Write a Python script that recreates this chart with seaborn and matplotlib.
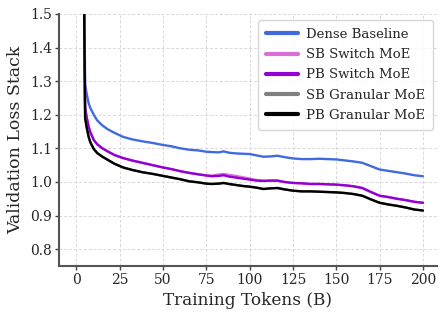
import numpy as np
import pandas as pd
import seaborn as sns
import matplotlib
matplotlib.use("Agg")
import matplotlib.pyplot as plt

tokens = [0, 5, 6, 7, 8, 10, 12, 15, 18, 22, 27, 32, 38, 44, 50, 55, 60, 65, 70, 75,
          78, 82, 85, 88, 92, 96, 100, 104, 108, 112, 116, 120, 125, 130, 135, 140,
          145, 150, 155, 160, 165, 170, 175, 180, 185, 190, 195, 200]

dense = [4.0, 1.29, 1.26, 1.235, 1.22, 1.20, 1.183, 1.168, 1.157, 1.146, 1.134, 1.127,
         1.121, 1.116, 1.110, 1.106, 1.100, 1.096, 1.094, 1.090, 1.089, 1.088, 1.091,
         1.087, 1.085, 1.084, 1.083, 1.079, 1.075, 1.076, 1.078, 1.074, 1.070, 1.068,
         1.068, 1.069, 1.068, 1.067, 1.064, 1.061, 1.057, 1.047, 1.037, 1.033, 1.029,
         1.025, 1.020, 1.017]

pb_switch = [4.0, 1.22, 1.19, 1.165, 1.148, 1.125, 1.112, 1.100, 1.091, 1.080, 1.071,
             1.064, 1.057, 1.050, 1.043, 1.038, 1.032, 1.027, 1.023, 1.019, 1.017,
             1.018, 1.020, 1.016, 1.013, 1.010, 1.007, 1.004, 1.003, 1.004, 1.004,
             1.000, 0.997, 0.996, 0.994, 0.994, 0.993, 0.992, 0.990, 0.987, 0.982,
             0.970, 0.959, 0.955, 0.950, 0.946, 0.941, 0.938]

sb_switch = [4.0, 1.22, 1.19, 1.165, 1.148, 1.125, 1.112, 1.100, 1.091, 1.080, 1.071,
             1.064, 1.057, 1.050, 1.043, 1.038, 1.032, 1.027, 1.023, 1.020, 1.019,
             1.022, 1.024, 1.021, 1.018, 1.014, 1.010, 1.006, 1.004, 1.004, 1.004,
             1.000, 0.997, 0.996, 0.994, 0.994, 0.993, 0.992, 0.990, 0.987, 0.982,
             0.970, 0.959, 0.955, 0.950, 0.946, 0.941, 0.938]

pb_granular = [4.0, 1.19, 1.16, 1.135, 1.118, 1.098, 1.086, 1.075, 1.066, 1.054, 1.043,
               1.036, 1.029, 1.024, 1.018, 1.013, 1.008, 1.002, 0.999, 0.995, 0.994,
               0.995, 0.997, 0.994, 0.991, 0.988, 0.986, 0.983, 0.979, 0.981, 0.982,
               0.978, 0.974, 0.972, 0.972, 0.971, 0.970, 0.969, 0.967, 0.964, 0.959,
               0.948, 0.938, 0.933, 0.929, 0.924, 0.918, 0.915]

sb_granular = [4.0, 1.19, 1.16, 1.135, 1.118, 1.098, 1.086, 1.075, 1.066, 1.054, 1.043,
               1.036, 1.029, 1.024, 1.018, 1.013, 1.008, 1.002, 0.999, 0.995, 0.994,
               0.995, 0.997, 0.994, 0.991, 0.988, 0.986, 0.983, 0.979, 0.981, 0.982,
               0.978, 0.974, 0.972, 0.972, 0.971, 0.970, 0.969, 0.967, 0.964, 0.959,
               0.948, 0.938, 0.933, 0.929, 0.924, 0.918, 0.915]

models = ["Dense Baseline", "SB Switch MoE", "PB Switch MoE", "SB Granular MoE", "PB Granular MoE"]
colors = ["#4169E1", "#DA70D6", "#9400D3", "#808080", "#000000"]

series = [dense, sb_switch, pb_switch, sb_granular, pb_granular]
df = pd.DataFrame({
    "Training Tokens (B)": np.tile(tokens, len(models)),
    "loss": np.concatenate(series),
    "model": np.repeat(models, len(tokens)),
})

sns.set_theme(style="whitegrid")
plt.rcParams["font.family"] = ["DejaVu Serif"]

fig = plt.figure(figsize=(4.48, 3.17), dpi=100)
ax = fig.add_axes([0.132, 0.161, 0.843, 0.795])

sns.lineplot(data=df, x="Training Tokens (B)", y="loss", hue="model",
             hue_order=models, palette=colors, linewidth=1.7, ax=ax)

ax.set_ylim(0.75, 1.5)
ax.set_xlim(-10, 208)
ax.set_xticks([0, 25, 50, 75, 100, 125, 150, 175, 200])
ax.set_yticks([0.8, 0.9, 1.0, 1.1, 1.2, 1.3, 1.4, 1.5])
ax.set_xlabel("Training Tokens (B)", fontsize=12.2)
ax.set_ylabel("Validation Loss Stack", fontsize=12.5)
ax.tick_params(axis="both", labelsize=10, length=3, width=1, color="#444444",
               left=True, bottom=True, pad=2)
ax.grid(True, linestyle=(0, (3, 2)), color="#d8d8d8", linewidth=0.7)
for side in ["top", "right"]:
    ax.spines[side].set_visible(False)
for side in ["left", "bottom"]:
    ax.spines[side].set_color("#555555")
    ax.spines[side].set_linewidth(1.5)

leg = ax.legend(loc="upper right", fontsize=9.5, frameon=True, fancybox=True,
                handlelength=2.4, handletextpad=0.6, borderpad=0.6,
                labelspacing=0.55, borderaxespad=0,
                bbox_to_anchor=(0.99, 0.976))
for line in leg.get_lines():
    line.set_linewidth(3)
leg.get_frame().set_edgecolor("#cccccc")

fig.savefig("out.png", dpi=100)
